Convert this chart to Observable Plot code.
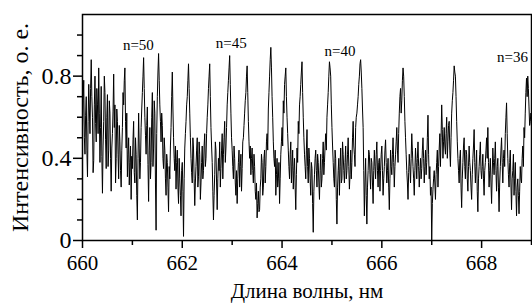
<!DOCTYPE html>
<html><head><meta charset="utf-8">
<script src="https://cdn.jsdelivr.net/npm/d3@7"></script>
<script src="https://cdn.jsdelivr.net/npm/@observablehq/plot@0.6"></script>
<style>
html,body{margin:0;padding:0;background:#fff;overflow:hidden;}
svg text{font-family:'Liberation Serif','Times New Roman',serif !important;}
</style></head><body><div id="chart"></div>
<script>
// Sampling grid of the measured spectrum (nm)
const startNm = 660;
const stepNm = 0.0125;
// Intensity, one row per 0.25 nm
const intensity = [
  0.55,0.68, 0.78,0.50, 0.42,0.61, 0.70,0.44, 0.31,0.58, 0.76,0.64, 0.52,0.74, 0.88,0.70, 0.60,0.33, 0.39,0.66,
  0.80,0.57, 0.48,0.74, 0.66,0.52, 0.84,0.62, 0.38,0.55, 0.75,0.41, 0.23,0.46, 0.58,0.80, 0.72,0.49, 0.35,0.60,
  0.71,0.36, 0.44,0.68, 0.62,0.40, 0.24,0.45, 0.52,0.63, 0.81,0.55, 0.66,0.28, 0.40,0.64, 0.58,0.42, 0.30,0.56,
  0.48,0.34, 0.26,0.44, 0.55,0.72, 0.66,0.78, 0.84,0.58, 0.45,0.62, 0.31,0.42, 0.50,0.27, 0.38,0.46, 0.20,0.41,
  0.35,0.49, 0.58,0.33, 0.28,0.50, 0.42,0.22, 0.10,0.40, 0.62,0.45, 0.30,0.38, 0.55,0.64, 0.72,0.80, 0.89,0.74,
  0.60,0.51, 0.42,0.56, 0.65,0.37, 0.19,0.44, 0.55,0.30, 0.38,0.60, 0.72,0.36, 0.45,0.68, 0.62,0.28, 0.05,0.52,
  0.70,0.82, 0.91,0.78, 0.66,0.58, 0.48,0.62, 0.56,0.40, 0.35,0.50, 0.44,0.30, 0.22,0.42, 0.38,0.26, 0.14,0.36,
  0.30,0.46, 0.55,0.70, 0.82,0.64, 0.50,0.40, 0.34,0.46, 0.25,0.38, 0.44,0.26, 0.18,0.40, 0.30,0.22, 0.12,0.34,
  0.38,0.24, 0.02,0.30, 0.45,0.52, 0.58,0.66, 0.70,0.78, 0.86,0.74, 0.62,0.50, 0.40,0.33, 0.28,0.50, 0.45,0.30,
  0.17,0.28, 0.36,0.44, 0.50,0.26, 0.31,0.48, 0.42,0.20, 0.28,0.38, 0.46,0.30, 0.34,0.46, 0.52,0.36, 0.40,0.52,
  0.60,0.66, 0.74,0.80, 0.86,0.70, 0.55,0.46, 0.38,0.24, 0.10,0.22, 0.32,0.48, 0.44,0.28, 0.15,0.30, 0.40,0.34,
  0.48,0.26, 0.35,0.44, 0.52,0.30, 0.42,0.50, 0.58,0.38, 0.45,0.55, 0.66,0.72, 0.78,0.84, 0.90,0.76, 0.62,0.50,
  0.44,0.36, 0.30,0.46, 0.40,0.28, 0.22,0.34, 0.18,0.30, 0.38,0.44, 0.26,0.36, 0.42,0.24, 0.35,0.48, 0.50,0.56,
  0.62,0.68, 0.72,0.80, 0.85,0.72, 0.58,0.48, 0.40,0.46, 0.32,0.40, 0.45,0.34, 0.28,0.42, 0.36,0.24, 0.20,0.28,
  0.11,0.18, 0.24,0.14, 0.15,0.26, 0.30,0.42, 0.38,0.22, 0.26,0.40, 0.44,0.28, 0.36,0.48, 0.52,0.44, 0.64,0.72,
  0.80,0.88, 0.94,0.84, 0.70,0.60, 0.48,0.40, 0.36,0.44, 0.22,0.32, 0.40,0.26, 0.30,0.38, 0.18,0.30, 0.42,0.48,
  0.55,0.46, 0.68,0.62, 0.76,0.80, 0.84,0.70, 0.60,0.52, 0.44,0.36, 0.30,0.42, 0.48,0.28, 0.36,0.44, 0.25,0.34,
  0.40,0.26, 0.15,0.32, 0.45,0.38, 0.58,0.52, 0.66,0.70, 0.76,0.82, 0.87,0.72, 0.60,0.50, 0.42,0.36, 0.30,0.44,
  0.54,0.36, 0.28,0.45, 0.40,0.30, 0.22,0.38, 0.35,0.18, 0.04,0.24, 0.32,0.40, 0.44,0.34, 0.26,0.42, 0.38,0.28,
  0.20,0.34, 0.42,0.26, 0.30,0.40, 0.48,0.32, 0.38,0.46, 0.52,0.44, 0.60,0.66, 0.72,0.80, 0.87,0.84, 0.80,0.66,
  0.55,0.46, 0.38,0.30, 0.26,0.44, 0.40,0.20, 0.08,0.26, 0.34,0.40, 0.22,0.36, 0.45,0.28, 0.30,0.48, 0.42,0.34,
  0.28,0.38, 0.46,0.30, 0.34,0.42, 0.50,0.36, 0.25,0.32, 0.44,0.30, 0.38,0.50, 0.58,0.46, 0.42,0.36, 0.55,0.60,
  0.62,0.66, 0.70,0.76, 0.80,0.86, 0.88,0.82, 0.74,0.64, 0.55,0.34, 0.12,0.28, 0.40,0.22, 0.08,0.26, 0.34,0.44,
  0.42,0.32, 0.25,0.40, 0.38,0.28, 0.18,0.34, 0.44,0.36, 0.30,0.42, 0.48,0.34, 0.26,0.38, 0.40,0.24, 0.34,0.42,
  0.46,0.34, 0.22,0.30, 0.36,0.44, 0.49,0.38, 0.28,0.34, 0.40,0.26, 0.15,0.30, 0.44,0.36, 0.32,0.42, 0.50,0.38,
  0.26,0.36, 0.42,0.48, 0.55,0.44, 0.38,0.52, 0.62,0.70, 0.74,0.62, 0.68,0.78, 0.84,0.80, 0.70,0.58, 0.50,0.42,
  0.34,0.28, 0.20,0.33, 0.42,0.36, 0.28,0.40, 0.52,0.44, 0.36,0.30, 0.22,0.34, 0.45,0.38, 0.30,0.40, 0.48,0.36,
  0.26,0.34, 0.40,0.30, 0.35,0.44, 0.50,0.40, 0.28,0.36, 0.44,0.32, 0.38,0.50, 0.61,0.42, 0.30,0.36, 0.22,0.26,
  0.00,0.18, 0.25,0.30, 0.34,0.28, 0.20,0.32, 0.38,0.44, 0.26,0.36, 0.45,0.52, 0.36,0.50, 0.66,0.54, 0.40,0.48,
  0.55,0.46, 0.42,0.52, 0.60,0.40, 0.48,0.56, 0.58,0.44, 0.36,0.50, 0.62,0.68, 0.72,0.78, 0.85,0.82, 0.80,0.70,
  0.58,0.48, 0.40,0.34, 0.28,0.40, 0.44,0.26, 0.16,0.30, 0.38,0.46, 0.50,0.36, 0.30,0.44, 0.42,0.30, 0.24,0.36,
  0.46,0.38, 0.34,0.26, 0.20,0.32, 0.40,0.46, 0.54,0.38, 0.28,0.36, 0.44,0.24, 0.14,0.30, 0.36,0.42, 0.48,0.34,
  0.30,0.36, 0.42,0.30, 0.22,0.34, 0.38,0.44, 0.50,0.40, 0.55,0.38, 0.26,0.34, 0.40,0.28, 0.18,0.32, 0.45,0.38,
  0.32,0.40, 0.48,0.34, 0.24,0.36, 0.40,0.26, 0.14,0.28, 0.36,0.44, 0.50,0.38, 0.28,0.40, 0.44,0.36, 0.52,0.60,
  0.67,0.52, 0.40,0.32, 0.26,0.38, 0.44,0.28, 0.15,0.30, 0.34,0.42, 0.22,0.30, 0.38,0.24, 0.12,0.26, 0.30,0.22,
  0.13,0.24, 0.36,0.30, 0.28,0.40, 0.46,0.36, 0.55,0.50, 0.62,0.72, 0.79,0.70, 0.80,0.74, 0.65,0.56, 0.58,0.62,
  0.60
];
const peakLabels = ["n=50", "n=45", "n=40", "n=36"];
const peakLabelX = [661.12, 662.98, 665.16, 668.62];
const peakLabelY = [0.95, 0.96, 0.92, 0.89];
const xMajorTicks = [660, 662, 664, 666, 668];
const xMinorTicks = [661, 663, 665, 667, 669];
const yMajorTicks = [0, 0.4, 0.8];
const yMinorTicks = [0.1, 0.2, 0.3, 0.5, 0.6, 0.7, 0.9, 1.0];
const xTitle = "Длина волны, нм";
const yTitle = "Интенсивность, о. е.";

const spectrum = intensity.map((v, i) => ({nm: startNm + i * stepNm, v}));
const labels = peakLabels.map((t, i) => ({t, x: peakLabelX[i], y: peakLabelY[i]}));
const serif = "'Liberation Serif', 'Times New Roman', serif";

const plot = Plot.plot({
  width: 532,
  height: 304,
  marginLeft: 82,
  marginRight: 1,
  marginTop: 14,
  marginBottom: 64,
  style: {fontFamily: serif, background: "white", color: "black", overflow: "visible", display: "block"},
  x: {domain: [660, 669]},
  y: {domain: [0, 1.1]},
  marks: [
    Plot.lineY(spectrum, {x: "nm", y: "v", stroke: "black", strokeWidth: 1}),
    Plot.frame({stroke: "black", strokeWidth: 1.5}),
    Plot.axisX({ticks: xMajorTicks, tickSize: 8, tickPadding: 7, fontSize: 21, fontFamily: serif, strokeWidth: 1.5, label: null, tickFormat: d => String(d)}),
    Plot.axisX({ticks: xMinorTicks, tickSize: 5, strokeWidth: 1.5, label: null, tickFormat: () => ""}),
    Plot.axisY({ticks: yMajorTicks, tickSize: 9, tickPadding: 2, fontSize: 24, fontFamily: serif, strokeWidth: 1.5, label: null, tickFormat: d => String(d)}),
    Plot.axisY({ticks: yMinorTicks, tickSize: 5, strokeWidth: 1.5, label: null, tickFormat: () => ""}),
    Plot.text(labels, {x: "x", y: "y", text: "t", fontSize: 15, fontFamily: serif}),
    Plot.text([xTitle], {text: d => d, frameAnchor: "bottom", textAnchor: "middle", dy: 51, fontSize: 21, fontFamily: serif, lineAnchor: "middle"}),
    Plot.text([yTitle], {text: d => d, frameAnchor: "left", textAnchor: "middle", rotate: -90, dx: -62, fontSize: 24, fontFamily: serif, lineAnchor: "middle"})
  ]
});
document.getElementById("chart").appendChild(plot);
</script>
</body></html>
